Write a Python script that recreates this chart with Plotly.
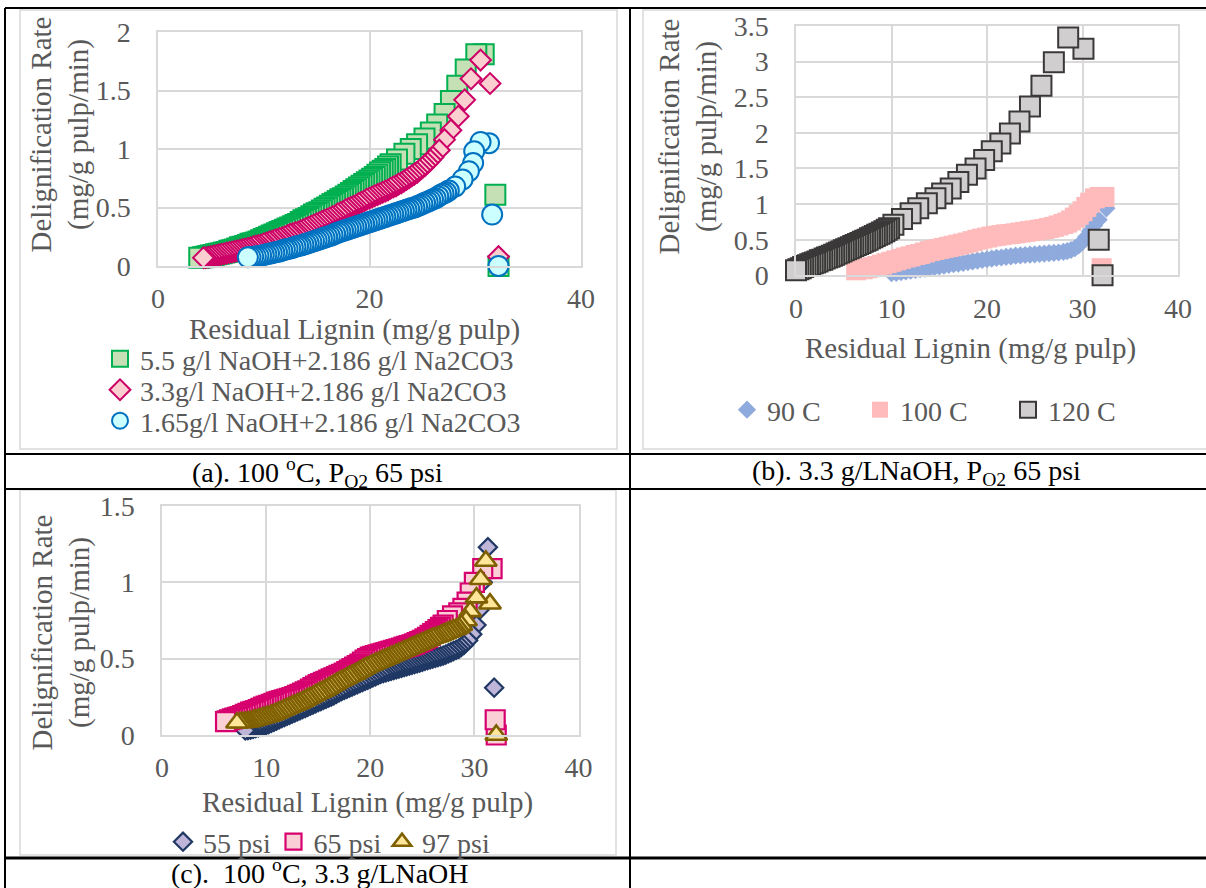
import plotly.graph_objects as go

W, H = 1206, 888
FONT = "Liberation Serif"
TXT = "#595959"

# ---------------- data: (a) 100 C, PO2 65 psi ----------------
a_names = ["5.5 g/l NaOH+2.186 g/l Na2CO3", "3.3g/l NaOH+2.186 g/l Na2CO3", "1.65g/l NaOH+2.186 g/l Na2CO3"]
a_green_x = [32.2, 31.9, 30.8, 30.1, 29.1, 28.3, 27.7, 27.1, 26.4, 25.8, 25.2, 24.5, 23.9, 23.3, 22.6, 22.0,
             21.75, 21.5, 21.25, 21.0, 20.75, 20.5, 20.25, 20.0, 19.75, 19.5, 19.25, 19.0, 18.75, 18.5, 18.25, 18.0,
             17.75, 17.5, 17.25, 17.0, 16.75, 16.5, 16.25, 16.0, 15.75, 15.5, 15.25, 15.0, 14.75, 14.5, 14.25, 14.0,
             13.75, 13.5, 13.25, 13.0, 12.75, 12.5, 12.25, 12.0, 11.75, 11.5, 11.25, 11.0, 10.75, 10.5, 10.25, 10.0,
             9.75, 9.5, 9.25, 9.0, 8.75, 8.5, 8.25, 8.0, 7.75, 7.5, 7.25, 7.0, 6.75, 6.5, 6.25, 6.0,
             5.75, 5.5, 5.25, 5.0, 4.75, 4.5, 4.25, 3.9]
a_green_y = [0.0, 0.61, 1.81, 1.81, 1.68, 1.54, 1.41, 1.30, 1.21, 1.14, 1.09, 1.04, 1.00, 0.96, 0.91, 0.87,
             0.85, 0.83, 0.815, 0.80, 0.78, 0.76, 0.745, 0.73, 0.715, 0.70, 0.685, 0.67, 0.655, 0.64, 0.625, 0.61,
             0.595, 0.58, 0.57, 0.555, 0.54, 0.53, 0.515, 0.50, 0.49, 0.475, 0.46, 0.45, 0.44, 0.425, 0.41, 0.40,
             0.39, 0.375, 0.36, 0.35, 0.34, 0.33, 0.32, 0.31, 0.30, 0.29, 0.28, 0.27, 0.26, 0.25, 0.24, 0.23,
             0.22, 0.21, 0.20, 0.195, 0.19, 0.18, 0.17, 0.165, 0.16, 0.15, 0.14, 0.135, 0.13, 0.12, 0.115, 0.11,
             0.105, 0.10, 0.095, 0.09, 0.085, 0.08, 0.075, 0.07]
a_pink_x = [32.2, 31.4, 30.5, 29.6, 29.0, 28.4, 27.7, 27.1, 26.6, 26.0,
            25.75, 25.5, 25.25, 25.0, 24.75, 24.5, 24.25, 24.0, 23.75, 23.5, 23.25, 23.0, 22.75, 22.5, 22.25, 22.0,
            21.75, 21.5, 21.25, 21.0, 20.75, 20.5, 20.25, 20.0, 19.75, 19.5, 19.25, 19.0, 18.75, 18.5, 18.25, 18.0,
            17.75, 17.5, 17.25, 17.0, 16.75, 16.5, 16.25, 16.0, 15.75, 15.5, 15.25, 15.0, 14.75, 14.5, 14.25, 14.0,
            13.75, 13.5, 13.25, 13.0, 12.75, 12.5, 12.25, 12.0, 11.75, 11.5, 11.25, 11.0, 10.75, 10.5, 10.25, 10.0,
            9.75, 9.5, 9.25, 9.0, 8.75, 8.5, 8.25, 8.0, 7.75, 7.5, 7.25, 7.0, 6.75, 6.5, 6.25, 6.0,
            5.75, 5.5, 5.25, 5.0, 4.75, 4.5, 4.3]
a_pink_y = [0.08, 1.56, 1.76, 1.60, 1.42, 1.28, 1.16, 1.08, 0.99, 0.93,
            0.905, 0.88, 0.86, 0.84, 0.82, 0.80, 0.785, 0.77, 0.755, 0.74, 0.725, 0.71, 0.70, 0.685, 0.675, 0.665,
            0.65, 0.64, 0.63, 0.62, 0.61, 0.60, 0.59, 0.58, 0.57, 0.555, 0.545, 0.535, 0.52, 0.51, 0.50, 0.49,
            0.48, 0.465, 0.455, 0.445, 0.43, 0.42, 0.41, 0.40, 0.39, 0.38, 0.37, 0.36, 0.35, 0.34, 0.33, 0.32,
            0.31, 0.30, 0.29, 0.285, 0.275, 0.27, 0.26, 0.25, 0.24, 0.235, 0.225, 0.22, 0.21, 0.205, 0.195, 0.19,
            0.18, 0.175, 0.17, 0.165, 0.155, 0.15, 0.145, 0.14, 0.135, 0.13, 0.125, 0.12, 0.115, 0.11, 0.105, 0.10,
            0.095, 0.09, 0.085, 0.08, 0.075, 0.072, 0.07]
a_blue_x = [32.2, 31.6, 31.3, 30.5, 29.9, 29.8, 29.4, 28.8, 28.1, 27.5,
            27.25, 27.0, 26.75, 26.5, 26.25, 26.0, 25.75, 25.5, 25.25, 25.0, 24.75, 24.5, 24.25, 24.0, 23.75, 23.5,
            23.25, 23.0, 22.75, 22.5, 22.25, 22.0, 21.75, 21.5, 21.25, 21.0, 20.75, 20.5, 20.25, 20.0, 19.75, 19.5,
            19.25, 19.0, 18.75, 18.5, 18.25, 18.0, 17.75, 17.5, 17.25, 17.0, 16.75, 16.5, 16.25, 16.0, 15.75, 15.5,
            15.25, 15.0, 14.75, 14.5, 14.25, 14.0, 13.75, 13.5, 13.25, 13.0, 12.75, 12.5, 12.25, 12.0, 11.75, 11.5,
            11.25, 11.0, 10.75, 10.5, 10.25, 10.0, 9.75, 9.5, 9.25, 9.0, 8.75, 8.5]
a_blue_y = [0.0, 0.44, 1.05, 1.06, 0.98, 0.88, 0.81, 0.74, 0.68, 0.645,
            0.63, 0.62, 0.61, 0.595, 0.58, 0.57, 0.56, 0.55, 0.54, 0.53, 0.52, 0.51, 0.50, 0.495, 0.487, 0.48,
            0.472, 0.465, 0.457, 0.45, 0.442, 0.435, 0.427, 0.42, 0.412, 0.405, 0.397, 0.39, 0.382, 0.375, 0.367, 0.36,
            0.352, 0.345, 0.337, 0.33, 0.322, 0.315, 0.307, 0.30, 0.292, 0.285, 0.275, 0.265, 0.257, 0.25, 0.242, 0.235,
            0.227, 0.22, 0.212, 0.205, 0.197, 0.19, 0.182, 0.175, 0.17, 0.165, 0.157, 0.15, 0.145, 0.14, 0.132, 0.125,
            0.12, 0.115, 0.11, 0.105, 0.10, 0.095, 0.09, 0.085, 0.082, 0.08, 0.077, 0.074]

# ---------------- data: (b) 3.3 g/L NaOH, PO2 65 psi ----------------
b_names = ["90 C", "100 C", "120 C"]
b_blue_x = [32.5, 31.7, 31.2, 30.8, 30.4, 30.0, 29.6, 29.2, 28.8, 28.4, 28.0, 27.5, 27.0, 26.5, 26.0, 25.5, 25.0, 24.5, 24.0, 23.5,
            23.0, 22.5, 22.0, 21.5, 21.0, 20.5, 20.0, 19.5, 19.0, 18.5, 18.0, 17.5, 17.0, 16.5, 16.0, 15.5, 15.0, 14.5, 14.0, 13.5,
            13.0, 12.5, 12.0, 11.5, 11.0, 10.5, 10.0]
b_blue_y = [0.94, 0.78, 0.70, 0.62, 0.54, 0.47, 0.42, 0.38, 0.355, 0.34, 0.33, 0.32, 0.315, 0.31, 0.305, 0.30, 0.295, 0.29, 0.285, 0.28,
            0.275, 0.265, 0.26, 0.25, 0.245, 0.235, 0.225, 0.215, 0.205, 0.195, 0.185, 0.175, 0.165, 0.155, 0.145, 0.135, 0.125, 0.115, 0.105, 0.095,
            0.085, 0.075, 0.065, 0.055, 0.045, 0.035, 0.03]
b_pink_x = [32.0, 32.3, 31.8, 31.3, 30.8, 30.4, 30.0, 29.6, 29.2, 28.8, 28.4, 28.0, 27.5, 27.0, 26.5, 26.0, 25.5, 25.0, 24.5, 24.0,
            23.5, 23.0, 22.5, 22.0, 21.5, 21.0, 20.5, 20.0, 19.5, 19.0, 18.5, 18.0, 17.5, 17.0, 16.5, 16.0, 15.5, 15.0, 14.5, 14.0,
            13.5, 13.0, 12.5, 12.0, 11.5, 11.0, 10.5, 10.0, 9.5, 9.0, 8.5, 8.0, 7.5, 7.0, 6.3]
b_pink_y = [0.10, 1.10, 1.10, 1.08, 1.02, 0.96, 0.90, 0.85, 0.81, 0.77, 0.74, 0.72, 0.70, 0.68, 0.665, 0.65, 0.64, 0.63, 0.62, 0.61,
            0.60, 0.59, 0.58, 0.575, 0.565, 0.555, 0.545, 0.53, 0.515, 0.50, 0.48, 0.46, 0.445, 0.43, 0.415, 0.40, 0.385, 0.37, 0.355, 0.34,
            0.32, 0.30, 0.285, 0.265, 0.25, 0.23, 0.21, 0.19, 0.17, 0.15, 0.13, 0.115, 0.10, 0.085, 0.07]
b_grey_x = [32.1, 31.7, 30.1, 28.5, 27.0, 25.7, 24.5, 23.4, 22.4, 21.4, 20.5, 19.7, 18.8, 17.9, 17.0, 16.2, 15.3, 14.6, 13.7, 12.8,
            12.0, 11.1, 10.2, 9.75, 9.5, 9.25, 9.0, 8.75, 8.5, 8.25, 8.0, 7.75, 7.5, 7.25, 7.0, 6.75, 6.5, 6.25, 6.0, 5.75,
            5.5, 5.25, 5.0, 4.75, 4.5, 4.25, 4.0, 3.75, 3.5, 3.25, 3.0, 2.75, 2.5, 2.25, 2.0, 1.75, 1.5, 1.25, 1.0, 0.75,
            0.5, 0.25, 0.0]
b_grey_y = [0.0, 0.50, 3.18, 3.34, 2.99, 2.66, 2.37, 2.16, 1.99, 1.85, 1.74, 1.62, 1.50, 1.41, 1.31, 1.22, 1.15, 1.08, 1.01, 0.94,
            0.87, 0.79, 0.71, 0.66, 0.64, 0.62, 0.60, 0.585, 0.57, 0.55, 0.535, 0.52, 0.50, 0.485, 0.47, 0.455, 0.44, 0.425, 0.41, 0.395,
            0.38, 0.365, 0.35, 0.335, 0.32, 0.305, 0.29, 0.275, 0.26, 0.25, 0.235, 0.22, 0.21, 0.195, 0.18, 0.17, 0.155, 0.14, 0.13, 0.115,
            0.10, 0.085, 0.07]

# ---------------- data: (c) 100 C, 3.3 g/L NaOH ----------------
c_names = ["55 psi", "65 psi", "97 psi"]
c_navy_x = [31.9, 31.3, 30.8, 30.5, 30.2, 29.8, 29.4,
            29.0, 28.75, 28.5, 28.25, 28.0, 27.75, 27.5, 27.25, 27.0, 26.75, 26.5, 26.25, 26.0, 25.75, 25.5, 25.25,
            25.0, 24.75, 24.5, 24.25, 24.0, 23.75, 23.5, 23.25, 23.0, 22.75, 22.5, 22.25, 22.0, 21.75, 21.5, 21.25,
            21.0, 20.75, 20.5, 20.25, 20.0, 19.75, 19.5, 19.25, 19.0, 18.75, 18.5, 18.25, 18.0, 17.75, 17.5, 17.25,
            17.0, 16.75, 16.5, 16.25, 16.0, 15.75, 15.5, 15.25, 15.0, 14.75, 14.5, 14.25, 14.0, 13.75, 13.5, 13.25,
            13.0, 12.75, 12.5, 12.25, 12.0, 11.75, 11.5, 11.25, 11.0, 10.75, 10.5, 10.25, 10.0, 9.75, 9.5, 9.25,
            9.0, 8.75, 8.5, 8.25, 8.0]
c_navy_y = [0.31, 1.23, 1.00, 0.82, 0.72, 0.66, 0.62,
            0.59, 0.577, 0.565, 0.557, 0.55, 0.542, 0.535, 0.527, 0.52, 0.515, 0.51, 0.505, 0.50, 0.495, 0.49, 0.485,
            0.48, 0.475, 0.47, 0.465, 0.46, 0.455, 0.45, 0.445, 0.44, 0.435, 0.43, 0.425, 0.42, 0.415, 0.41, 0.405,
            0.40, 0.392, 0.385, 0.377, 0.37, 0.362, 0.355, 0.347, 0.34, 0.332, 0.325, 0.317, 0.31, 0.302, 0.295, 0.287,
            0.28, 0.27, 0.26, 0.252, 0.245, 0.237, 0.23, 0.222, 0.215, 0.207, 0.20, 0.192, 0.185, 0.177, 0.17, 0.162,
            0.155, 0.147, 0.14, 0.132, 0.125, 0.117, 0.11, 0.102, 0.095, 0.087, 0.08, 0.072, 0.065, 0.06, 0.055, 0.05,
            0.045, 0.04, 0.035, 0.032, 0.03]
c_pink_x = [32.1, 32.0, 31.7, 30.8, 30.0, 29.6, 29.3, 28.9, 28.5, 27.9, 27.4,
            27.0, 26.75, 26.5, 26.25, 26.0, 25.75, 25.5, 25.25, 25.0, 24.75, 24.5, 24.25, 24.0, 23.75, 23.5, 23.25,
            23.0, 22.75, 22.5, 22.25, 22.0, 21.75, 21.5, 21.25, 21.0, 20.75, 20.5, 20.25, 20.0, 19.75, 19.5, 19.25,
            19.0, 18.75, 18.5, 18.25, 18.0, 17.75, 17.5, 17.25, 17.0, 16.75, 16.5, 16.25, 16.0, 15.75, 15.5, 15.25,
            15.0, 14.75, 14.5, 14.25, 14.0, 13.75, 13.5, 13.25, 13.0, 12.75, 12.5, 12.25, 12.0, 11.75, 11.5, 11.25,
            11.0, 10.75, 10.5, 10.25, 10.0, 9.75, 9.5, 9.25, 9.0, 8.75, 8.5, 8.25, 8.0, 7.75, 7.5, 7.25,
            7.0, 6.75, 6.5, 6.25, 6.1]
c_pink_y = [0.0, 0.10, 1.09, 1.09, 1.00, 0.93, 0.87, 0.83, 0.80, 0.78, 0.75,
            0.72, 0.705, 0.69, 0.677, 0.665, 0.652, 0.64, 0.63, 0.62, 0.612, 0.605, 0.597, 0.59, 0.585, 0.58, 0.575,
            0.57, 0.565, 0.56, 0.555, 0.55, 0.545, 0.54, 0.535, 0.53, 0.525, 0.52, 0.515, 0.51, 0.50, 0.49, 0.477,
            0.465, 0.455, 0.445, 0.435, 0.425, 0.415, 0.405, 0.397, 0.39, 0.382, 0.375, 0.367, 0.36, 0.352, 0.345, 0.337,
            0.33, 0.32, 0.31, 0.30, 0.29, 0.282, 0.275, 0.267, 0.26, 0.252, 0.245, 0.24, 0.235, 0.23, 0.225, 0.22,
            0.215, 0.207, 0.20, 0.195, 0.19, 0.182, 0.175, 0.167, 0.16, 0.155, 0.15, 0.142, 0.135, 0.127, 0.12, 0.115,
            0.11, 0.105, 0.10, 0.093, 0.087]
c_gold_x = [32.1, 31.5, 31.1, 30.6, 30.2, 29.6, 29.2,
            28.75, 28.5, 28.25, 28.0, 27.75, 27.5, 27.25, 27.0, 26.75, 26.5, 26.25, 26.0, 25.75, 25.5, 25.25, 25.0,
            24.75, 24.5, 24.25, 24.0, 23.75, 23.5, 23.25, 23.0, 22.75, 22.5, 22.25, 22.0, 21.75, 21.5, 21.25, 21.0,
            20.75, 20.5, 20.25, 20.0, 19.75, 19.5, 19.25, 19.0, 18.75, 18.5, 18.25, 18.0, 17.75, 17.5, 17.25, 17.0,
            16.75, 16.5, 16.25, 16.0, 15.75, 15.5, 15.25, 15.0, 14.75, 14.5, 14.25, 14.0, 13.75, 13.5, 13.25, 13.0,
            12.75, 12.5, 12.25, 12.0, 11.75, 11.5, 11.25, 11.0, 10.75, 10.5, 10.25, 10.0, 9.75, 9.5, 9.25, 9.0,
            8.75, 8.5, 8.25, 8.0, 7.75, 7.5, 7.2]
c_gold_y = [0.0, 0.86, 1.14, 1.02, 0.90, 0.81, 0.75,
            0.72, 0.705, 0.695, 0.69, 0.682, 0.675, 0.667, 0.66, 0.652, 0.645, 0.64, 0.635, 0.627, 0.62, 0.612, 0.605,
            0.597, 0.59, 0.582, 0.575, 0.567, 0.56, 0.552, 0.545, 0.537, 0.53, 0.522, 0.515, 0.507, 0.50, 0.492, 0.485,
            0.477, 0.47, 0.462, 0.455, 0.447, 0.44, 0.43, 0.42, 0.41, 0.40, 0.392, 0.385, 0.375, 0.365, 0.357, 0.35,
            0.34, 0.33, 0.32, 0.31, 0.30, 0.29, 0.282, 0.275, 0.265, 0.255, 0.247, 0.24, 0.23, 0.22, 0.212, 0.205,
            0.197, 0.19, 0.182, 0.175, 0.167, 0.16, 0.152, 0.145, 0.137, 0.13, 0.125, 0.12, 0.115, 0.11, 0.105, 0.10,
            0.095, 0.09, 0.087, 0.085, 0.083, 0.082, 0.08]

x_title = "Residual Lignin (mg/g pulp)"
y_title = "Delignification Rate<br>(mg/g pulp/min)"
captions = ["(a). 100 <sup>o</sup>C, P<sub>O2</sub> 65 psi",
            "(b). 3.3 g/LNaOH, P<sub>O2</sub> 65 psi",
            "(c).&nbsp; 100 <sup>o</sup>C, 3.3 g/LNaOH"]


def PX(p):
    return p / W


def PY(p):
    return 1 - p / H


fig = go.Figure()


def add(x, y, name, ax, legend, symbol, size, fill, line_color, line_width):
    fig.add_trace(go.Scatter(
        x=x, y=y, mode="markers", name=name, showlegend=True,
        xaxis="x" + ax, yaxis="y" + ax, legend=legend, cliponaxis=False,
        marker=dict(symbol=symbol, size=size, color=fill,
                    line=dict(color=line_color, width=line_width)),
        hoverinfo="skip"))


add(a_green_x, a_green_y, a_names[0], "", "legend", "square", 20, "#C5E0B4", "#00B050", 2.0)
add(a_pink_x, a_pink_y, a_names[1], "", "legend2", "diamond", 16, "#FBCFCF", "#CC0066", 2.0)
add(a_blue_x, a_blue_y, a_names[2], "", "legend3", "circle", 20, "#CCFFFF", "#0070C0", 2.0)

add(b_blue_x, b_blue_y, b_names[0], "2", "legend4", "diamond", 14, "#8FAADC", "#8FAADC", 0)
add(b_pink_x, b_pink_y, b_names[1], "2", "legend5", "square", 20, "#FFBBBB", "#FFBBBB", 0)
add(b_grey_x, b_grey_y, b_names[2], "2", "legend6", "square", 20, "#D0CECE", "#3B3838", 2.0)

add(c_navy_x, c_navy_y, c_names[0], "3", "legend7", "diamond", 14, "#BFB5D8", "#1F3864", 2.2)
add(c_pink_x, c_pink_y, c_names[1], "3", "legend8", "square", 19, "#FBCFD6", "#D6006F", 2.2)
add(c_gold_x, c_gold_y, c_names[2], "3", "legend9", "triangle-up", 19, "#FFE699", "#7F6000", 2.6)

axis_common = dict(showgrid=True, gridcolor="#D9D9D9", gridwidth=1.5, zeroline=False,
                   showline=True, mirror=True, linecolor="#D9D9D9", linewidth=1.5,
                   ticks="", tickfont=dict(family=FONT, size=28, color=TXT), fixedrange=True,
                   automargin=False)

fig.update_layout(
    xaxis=dict(domain=[PX(158), PX(581)], range=[0, 40], dtick=20, tick0=0, anchor="y",
               ticklabelstandoff=7, **axis_common),
    yaxis=dict(domain=[PY(266), PY(32)], range=[0, 2], dtick=0.5, tick0=0, anchor="x",
               ticklabelstandoff=20, **axis_common),
    xaxis2=dict(domain=[PX(796), PX(1178)], range=[0, 40], dtick=10, tick0=0, anchor="y2",
                ticklabelstandoff=7, **axis_common),
    yaxis2=dict(domain=[PY(275.3), PY(26)], range=[0, 3.5], dtick=0.5, tick0=0, anchor="x2",
                ticklabelstandoff=20, **axis_common),
    xaxis3=dict(domain=[PX(162), PX(578.5)], range=[0, 40], dtick=10, tick0=0, anchor="y3",
                ticklabelstandoff=7, **axis_common),
    yaxis3=dict(domain=[PY(735), PY(506)], range=[0, 1.5], dtick=0.5, tick0=0, anchor="x3",
                ticklabelstandoff=20, **axis_common),
)

leg_font = dict(family=FONT, size=28, color=TXT)
leg_pos = {
    "legend": (100, 359), "legend2": (100, 390), "legend3": (100, 421),
    "legend4": (727, 410), "legend5": (860, 410), "legend6": (1008, 410),
    "legend7": (163, 842), "legend8": (273.5, 842), "legend9": (382, 842),
}
for key, (lx, ly) in leg_pos.items():
    fig.layout[key] = dict(x=PX(lx), y=PY(ly), xanchor="left", yanchor="middle",
                           bgcolor="rgba(0,0,0,0)", borderwidth=0, font=leg_font,
                           orientation="v", itemclick=False, itemdoubleclick=False)

ann = []
title_font = dict(family=FONT, size=29, color=TXT)
for (cx, cy) in [(354, 329), (970, 348), (367, 802)]:
    ann.append(dict(text=x_title, x=PX(cx), y=PY(cy), xref="paper", yref="paper",
                    xanchor="center", yanchor="middle", showarrow=False, font=title_font))
for (cx, cy) in [(60.5, 135), (687.5, 137), (60.5, 633)]:
    ann.append(dict(text=y_title, x=PX(cx), y=PY(cy), xref="paper", yref="paper",
                    xanchor="center", yanchor="middle", showarrow=False, textangle=-90,
                    font=title_font))
cap_font = dict(family=FONT, size=28, color="black")
for txt, (cx, cy) in zip(captions, [(317.5, 472), (916.5, 472), (320, 871)]):
    ann.append(dict(text=txt, x=PX(cx), y=PY(cy), xref="paper", yref="paper",
                    xanchor="center", yanchor="middle", showarrow=False, font=cap_font))

shapes = []
# chart-area outlines
for (x0, y0, x1, y1) in [(20, 10, 617, 449), (643, 10, 1215, 449), (20, 490, 616, 855)]:
    shapes.append(dict(type="rect", xref="paper", yref="paper", x0=PX(x0), x1=PX(x1),
                       y0=PY(y1), y1=PY(y0), line=dict(color="#D9D9D9", width=1.5),
                       fillcolor="rgba(0,0,0,0)", layer="below"))
# table rules
for (x0, y0, x1, y1, w) in [(5, 8, 1206, 8, 2), (5, 8, 5, 888, 2), (630, 8, 630, 888, 2),
                            (5, 454, 1206, 454, 2), (5, 489, 1206, 489, 2), (5, 858, 1206, 858, 3)]:
    shapes.append(dict(type="line", xref="paper", yref="paper", x0=PX(x0), x1=PX(x1),
                       y0=PY(y0), y1=PY(y1), line=dict(color="black", width=w)))

fig.update_layout(width=W, height=H, autosize=False,
                  margin=dict(l=0, r=0, t=0, b=0, pad=0, autoexpand=False),
                  paper_bgcolor="white", plot_bgcolor="white", showlegend=True,
                  annotations=ann, shapes=shapes, hovermode=False,
                  font=dict(family=FONT, color=TXT))

fig.write_html("out.html", include_plotlyjs=True, full_html=True,
               default_width="1206px", default_height="888px",
               config=dict(displayModeBar=False),
               post_script="document.body.style.margin='0px';document.body.style.overflow='hidden';")
